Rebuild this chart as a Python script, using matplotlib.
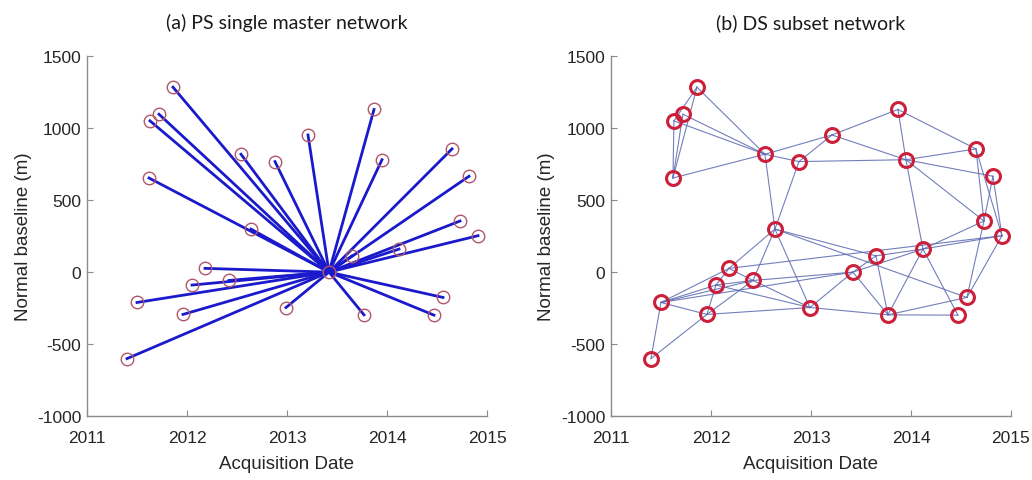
import numpy as np
import matplotlib.pyplot as plt

# acquisition dates (decimal year) and normal baselines (m)
names = ['A', 'B', 'C', 'D', 'E', 'F', 'G', 'H', 'I', 'J', 'K', 'L', 'M', 'N',
         'O', 'P', 'Q', 'R', 'S', 'T', 'U', 'V', 'W', 'X', 'Y', 'Z', 'AA']
dates = [2011.86, 2011.72, 2011.63, 2011.62, 2012.54, 2012.88, 2012.64, 2012.18,
         2012.05, 2012.42, 2011.50, 2011.96, 2011.40, 2012.99, 2013.21, 2013.87,
         2013.95, 2014.65, 2014.82, 2013.42, 2013.65, 2014.12, 2014.73, 2014.91,
         2014.56, 2014.47, 2013.77]
baselines = [1285, 1097, 1051, 654, 819, 768, 299, 26, -90, -58, -211, -294, -601,
             -246, 953, 1130, 781, 856, 666, 0, 113, 160, 355, 253, -176, -299, -297]
master = 'T'

# DS subset network connections
ds_edges = [('A', 'C'), ('A', 'D'), ('A', 'E'), ('B', 'D'), ('C', 'D'), ('B', 'E'),
            ('C', 'E'), ('D', 'E'), ('E', 'F'), ('E', 'O'), ('E', 'G'), ('F', 'G'),
            ('F', 'O'), ('F', 'Q'), ('O', 'P'), ('O', 'Q'), ('P', 'Q'), ('P', 'R'),
            ('Q', 'R'), ('Q', 'S'), ('Q', 'W'), ('Q', 'V'), ('R', 'W'), ('R', 'X'),
            ('S', 'W'), ('S', 'X'), ('W', 'Y'), ('X', 'Y'), ('V', 'W'), ('V', 'X'),
            ('U', 'V'), ('T', 'V'), ('V', 'Z'), ('V', 'AA'), ('U', 'AA'), ('T', 'AA'),
            ('G', 'Y'), ('AA', 'Y'), ('AA', 'Z'), ('N', 'T'), ('N', 'AA'), ('T', 'U'),
            ('G', 'U'), ('G', 'H'), ('G', 'J'), ('G', 'N'), ('M', 'K'), ('M', 'L'),
            ('K', 'H'), ('K', 'I'), ('K', 'J'), ('K', 'L'), ('K', 'T'), ('L', 'I'),
            ('L', 'J'), ('L', 'N'), ('H', 'I'), ('H', 'J'), ('I', 'J'), ('J', 'N'),
            ('I', 'N'), ('J', 'T'), ('H', 'X')]

pos = {n: (d, b) for n, d, b in zip(names, dates, baselines)}

plt.rcParams['font.family'] = ['Liberation Sans', 'DejaVu Sans']
plt.rcParams['axes.unicode_minus'] = False

fig = plt.figure(figsize=(10.32, 4.81), dpi=100)
ax1 = fig.add_axes([0.0843, 0.133, 0.3876, 0.748])
ax2 = fig.add_axes([0.592, 0.133, 0.3876, 0.748])

# (a) single master: every acquisition linked to the master
mx, my = pos[master]
for n in names:
    if n == master:
        continue
    x, y = pos[n]
    ax1.plot([mx, x], [my, y], color='#1a1acc', lw=2.0, zorder=2)
for n in names:
    x, y = pos[n]
    ax1.plot(x, y, 'o', ms=9, mfc='none', mec='#b0586a', mew=1.0, zorder=3)

# (b) DS subset network
for a, b in ds_edges:
    ax2.plot([pos[a][0], pos[b][0]], [pos[a][1], pos[b][1]],
             color='#5a68b0', lw=0.8, alpha=0.85, zorder=2)
ax2.plot(dates, baselines, 'o', ms=10, mfc='none', mec='#cc1f3a', mew=2.2, zorder=3)

titles = ['(a) PS single master network', '(b) DS subset network']
for ax, t in zip([ax1, ax2], titles):
    ax.set_xlim(2011, 2015)
    ax.set_ylim(-1000, 1500)
    ax.set_xticks([2011, 2012, 2013, 2014, 2015])
    ax.set_yticks([-1000, -500, 0, 500, 1000, 1500])
    ax.spines['top'].set_visible(False)
    ax.spines['right'].set_visible(False)
    for s in ['left', 'bottom']:
        ax.spines[s].set_color('#8c8c8c')
        ax.spines[s].set_linewidth(1.0)
    ax.tick_params(direction='in', length=4, color='#8c8c8c', labelsize=12.5,
                   labelcolor='#262626')
    ax.tick_params(axis='x', pad=10)
    ax.tick_params(axis='y', pad=4)
    ax.set_xlabel('Acquisition Date', fontsize=13.5, color='#262626', labelpad=7)
    ax.set_ylabel('Normal baseline (m)', fontsize=13.5, color='#262626', labelpad=4)
    ax.set_title(t, fontsize=14, family=['Lato', 'DejaVu Sans'], color='#1a1a1a', pad=20)

fig.savefig('out.png', dpi=100)
